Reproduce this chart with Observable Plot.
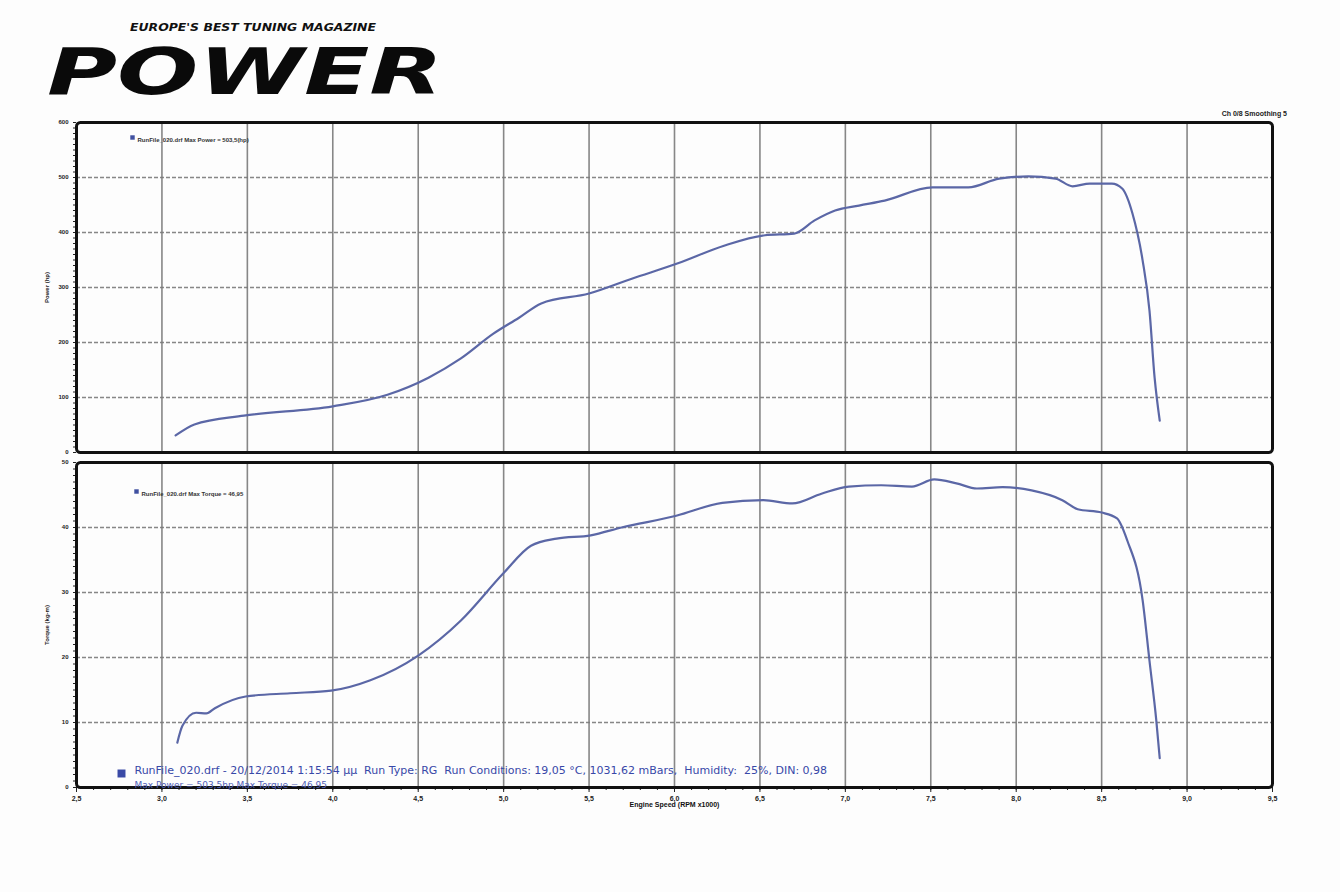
<!DOCTYPE html>
<html>
<head>
<meta charset="utf-8">
<script src="https://cdn.jsdelivr.net/npm/d3@7"></script>
<script src="https://cdn.jsdelivr.net/npm/@observablehq/plot@0.6"></script>
<style>
  html, body { margin: 0; padding: 0; background: #fdfdfd; }
  #page { position: relative; width: 1340px; height: 892px; overflow: hidden; background: #fdfdfd; font-family: "Liberation Sans", Arial, sans-serif; }
  #logo { position: absolute; left: 0; top: 0; }
  #top { position: absolute; left: 0; top: 100px; }
  #bottom { position: absolute; left: 0; top: 452px; }
  #smooth { position: absolute; right: 53px; top: 110px; font-size: 7px; font-weight: bold; color: #222; }
</style>
</head>
<body>
<div id="page">
  <svg id="logo" width="480" height="120">
    <text x="253" y="31" text-anchor="middle" font-family="DejaVu Sans" font-style="italic" font-weight="bold" font-size="10" textLength="246" lengthAdjust="spacingAndGlyphs" fill="#111">EUROPE'S BEST TUNING MAGAZINE</text>
    <text x="47" y="94" font-family="DejaVu Sans" font-style="italic" font-weight="bold" font-size="64" textLength="396" lengthAdjust="spacingAndGlyphs" fill="#0a0a0a">POWER</text>
  </svg>
  <div id="smooth">Ch 0/8 Smoothing 5</div>
  <div id="top"></div>
  <div id="bottom"></div>
</div>
<script>
// ---- Data read from the dyno sheet ----
const rpmPower = [3.08, 3.19, 3.48, 4.0, 4.32, 4.56, 4.75, 4.94, 5.09, 5.22, 5.5, 5.75, 6.02, 6.29, 6.53, 6.7, 6.82, 6.94, 7.08, 7.23, 7.51, 7.72, 7.9, 8.07, 8.23, 8.33, 8.43, 8.56, 8.62, 8.68, 8.74, 8.78, 8.81, 8.84];
const powerHp = [31, 51, 67, 84, 105, 136, 171, 216, 245, 271, 289, 316, 344, 376, 395, 398, 422, 440, 449, 458, 482, 482, 498, 502, 498, 484, 489, 489, 480, 435, 349, 258, 136, 58];

const rpmTorque = [3.09, 3.12, 3.2, 3.26, 3.31, 3.49, 3.75, 3.99, 4.22, 4.5, 4.75, 5.0, 5.16, 5.31, 5.51, 5.69, 6.01, 6.28, 6.52, 6.69, 6.86, 7.02, 7.21, 7.39, 7.52, 7.65, 7.77, 7.92, 8.09, 8.27, 8.36, 8.5, 8.59, 8.65, 8.74, 8.78, 8.82, 8.84];
const torqueKgm = [6.9, 9.5, 11.5, 11.4, 12.2, 14.0, 14.5, 14.9, 16.5, 20.3, 25.7, 33.0, 37.2, 38.3, 38.8, 40.0, 41.8, 43.8, 44.2, 43.7, 45.2, 46.3, 46.5, 46.3, 47.4, 46.8, 46.0, 46.2, 45.7, 44.2, 42.8, 42.3, 41.4, 38.0, 28.8, 19.5, 10.3, 4.5];

const xTicks = [2.5, 3.0, 3.5, 4.0, 4.5, 5.0, 5.5, 6.0, 6.5, 7.0, 7.5, 8.0, 8.5, 9.0, 9.5];
const powerTicks = [0, 100, 200, 300, 400, 500, 600];
const torqueTicks = [0, 10, 20, 30, 40, 50];

const powerLegend = "RunFile_020.drf Max Power = 503,5(hp)";
const torqueLegend = "RunFile_020.drf Max Torque = 46,95";
const infoLine1 = "RunFile_020.drf - 20/12/2014 1:15:54 µµ  Run Type: RG  Run Conditions: 19,05 °C, 1031,62 mBars,  Humidity:  25%, DIN: 0,98";
const infoLine2 = "Max Power = 503,5hp Max Torque = 46,95";
const xLabel = "Engine Speed (RPM x1000)";

// ---- Styling ----
const lineColor = "#5b67a6";
const gridColor = "#7a7a7a";
const fmtComma = d => d3.format(".1f")(d).replace(".", ",");
const xDomain = [2.5, 9.5];
const xMinor = d3.range(25, 96).map(v => v / 10);
const xInner = xTicks.slice(1, -1);

const powerData = rpmPower.map((r, i) => ({rpm: r, hp: powerHp[i]}));
const torqueData = rpmTorque.map((r, i) => ({rpm: r, t: torqueKgm[i]}));

const common = {
  width: 1340,
  marginLeft: 76,
  marginRight: 68,
  style: {background: "transparent", fontFamily: "Liberation Sans, Arial, sans-serif", fontWeight: "bold", color: "#222"}
};

const topPlot = Plot.plot({
  ...common,
  height: 360,
  marginTop: 22,
  marginBottom: 8,
  x: {domain: xDomain, axis: null},
  y: {domain: [0, 600], axis: null},
  marks: [
    Plot.gridX(xInner, {stroke: gridColor, strokeOpacity: 0.9, strokeWidth: 1.6}),
    Plot.gridY(powerTicks.slice(1, -1), {stroke: gridColor, strokeOpacity: 0.9, strokeWidth: 1.4, strokeDasharray: "4,2"}),
    Plot.axisY(d3.range(0, 601, 10), {tickSize: 3, tickFormat: () => "", stroke: "#222", label: null}),
    Plot.axisY(powerTicks, {tickSize: 0, tickPadding: 8, fontSize: 6, fontWeight: "bold", label: "Power (hp)", labelAnchor: "center", labelOffset: 32, labelArrow: "none"}),
    Plot.frame({stroke: "#111", strokeWidth: 3, rx: 4}),
    Plot.line(powerData, {x: "rpm", y: "hp", stroke: lineColor, strokeWidth: 2.2, curve: "monotone-x"}),
    Plot.dot([0], {frameAnchor: "top-left", dx: 56, dy: 15, symbol: "square", r: 2.5, fill: "#4050a0"}),
    Plot.text([powerLegend], {frameAnchor: "top-left", dx: 61, dy: 15, textAnchor: "start", fontSize: 6, fill: "#333", fontWeight: "bold"})
  ]
});
document.getElementById("top").appendChild(topPlot);

const bottomPlot = Plot.plot({
  ...common,
  height: 380,
  marginTop: 10,
  marginBottom: 45,
  x: {domain: xDomain, axis: null},
  y: {domain: [0, 50], axis: null},
  marks: [
    Plot.gridX(xInner, {stroke: gridColor, strokeOpacity: 0.9, strokeWidth: 1.6}),
    Plot.gridY(torqueTicks.slice(1, -1), {stroke: gridColor, strokeOpacity: 0.9, strokeWidth: 1.4, strokeDasharray: "4,2"}),
    Plot.axisY(d3.range(0, 51, 1), {tickSize: 3, tickFormat: () => "", stroke: "#222", label: null}),
    Plot.axisY(torqueTicks, {tickSize: 0, tickPadding: 8, fontSize: 6, fontWeight: "bold", label: "Torque (kg-m)", labelAnchor: "center", labelOffset: 32, labelArrow: "none"}),
    Plot.axisX(xMinor, {tickSize: 3, tickFormat: () => "", stroke: "#222", label: null}),
    Plot.axisX(xTicks, {tickSize: 5, tickPadding: 4, tickFormat: fmtComma, fontSize: 7, fontWeight: "bold", label: null}),
    Plot.text([xLabel], {frameAnchor: "bottom", dy: 19, fontSize: 7, fontWeight: "bold", fill: "#111"}),
    Plot.frame({stroke: "#111", strokeWidth: 3, rx: 4}),
    Plot.line(torqueData, {x: "rpm", y: "t", stroke: lineColor, strokeWidth: 2.2, curve: "monotone-x"}),
    Plot.dot([0], {frameAnchor: "top-left", dx: 60, dy: 29, symbol: "square", r: 2.5, fill: "#4050a0"}),
    Plot.text([torqueLegend], {frameAnchor: "top-left", dx: 65, dy: 29, textAnchor: "start", fontSize: 6, fill: "#333", fontWeight: "bold"}),
    Plot.dot([0], {frameAnchor: "bottom-left", dx: 45, dy: -14, symbol: "square", r: 4.5, fill: "#3a4aa6"}),
    Plot.text([infoLine1], {frameAnchor: "bottom-left", dx: 58, dy: -14, textAnchor: "start", fontSize: 11, fontFamily: "DejaVu Sans", fontWeight: "normal", fill: "#3848a8"}),
    Plot.text([infoLine2], {frameAnchor: "bottom-left", dx: 58, dy: 0, textAnchor: "start", fontSize: 9, fontFamily: "DejaVu Sans", fontWeight: "normal", fill: "#5060b8"})
  ]
});
document.getElementById("bottom").appendChild(bottomPlot);
</script>
</body>
</html>
